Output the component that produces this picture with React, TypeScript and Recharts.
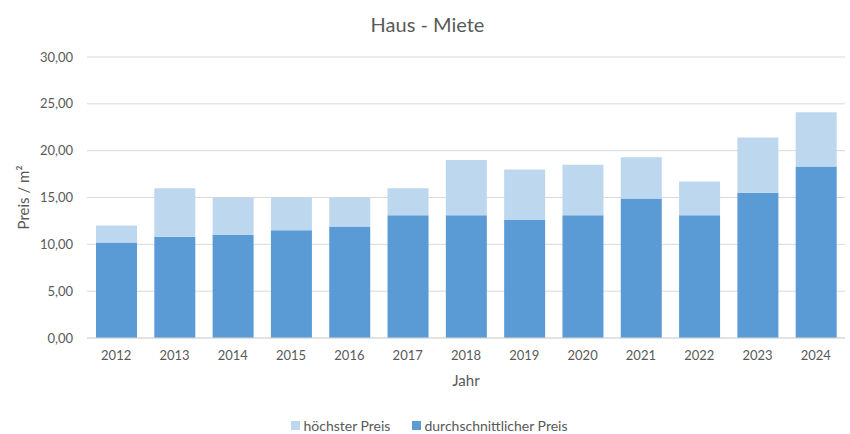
import { Bar, BarChart, CartesianGrid, Legend, XAxis, YAxis } from "recharts";

const years = ["2012", "2013", "2014", "2015", "2016", "2017", "2018", "2019", "2020", "2021", "2022", "2023", "2024"];
// durchschnittlicher Preis (€/m²)
const avgPrice = [10.2, 10.8, 11.0, 11.5, 11.9, 13.1, 13.1, 12.6, 13.1, 14.9, 13.1, 15.5, 18.3];
// höchster Preis (€/m²)
const maxPrice = [12.0, 16.0, 15.0, 15.0, 15.0, 16.0, 19.0, 18.0, 18.5, 19.3, 16.7, 21.4, 24.1];
const yTicks = [0, 5, 10, 15, 20, 25, 30];

const DARK = "#5B9BD5";
const LIGHT = "#BDD7EE";
const TEXT = "#595959";
const FONT = "Lato, 'Noto Sans', sans-serif";

// light bar sits on top of the dark one, so stack the difference
const rows = years.map((y, i) => ({
  year: y,
  avg: avgPrice[i],
  rest: +(maxPrice[i] - avgPrice[i]).toFixed(2),
}));

const fmt = (v: number) => v.toFixed(2).replace(".", ",");

function LegendBox() {
  const item = (color: string, label: string, gap: number) => (
    <span style={{ display: "inline-flex", alignItems: "center", marginRight: gap }}>
      <span style={{ width: 9, height: 9, background: color, marginRight: 3, display: "inline-block" }} />
      {label}
    </span>
  );
  return (
    <div
      style={{
        height: 46,
        paddingTop: 28,
        boxSizing: "border-box",
        lineHeight: "18px",
        textAlign: "center",
        fontSize: 14,
        color: TEXT,
        fontFamily: FONT,
        paddingLeft: 14,
      }}
    >
      {item(LIGHT, "höchster Preis", 22)}
      {item(DARK, "durchschnittlicher Preis", 0)}
    </div>
  );
}

export default function App() {
  return (
    <div style={{ position: "absolute", left: 0, top: 0, width: 850, height: 434, background: "#fff", fontFamily: FONT }}>
      <div
        style={{
          position: "absolute",
          top: 12,
          left: 0,
          width: 855,
          textAlign: "center",
          fontSize: 20,
          color: TEXT,
          lineHeight: "24px",
        }}
      >
        Haus - Miete
      </div>
      <BarChart width={850} height={434} data={rows} margin={{ top: 57, right: 5, left: 0, bottom: 0 }}>
        <CartesianGrid vertical={false} stroke="#d9d9d9" />
        <XAxis
          dataKey="year"
          height={50}
          tickLine={false}
          tickSize={0}
          tickMargin={13}
          axisLine={{ stroke: "#d9d9d9" }}
          tick={{ fill: TEXT, fontSize: 13 }}
          label={{ value: "Jahr", position: "insideBottom", offset: 2, fill: TEXT, fontSize: 15 }}
        />
        <YAxis
          width={87}
          domain={[0, 30]}
          ticks={yTicks}
          tickFormatter={fmt}
          tickLine={false}
          axisLine={false}
          tickSize={0}
          tickMargin={14}
          tick={{ fill: TEXT, fontSize: 13 }}
          label={{
            value: "Preis / m²",
            angle: -90,
            position: "insideLeft",
            offset: 24,
            fill: TEXT,
            fontSize: 15,
            style: { textAnchor: "middle" },
          }}
        />
        <Legend verticalAlign="bottom" content={() => <LegendBox />} />
        <Bar dataKey="avg" name="durchschnittlicher Preis" stackId="p" fill={DARK} barSize={41} isAnimationActive={false} />
        <Bar dataKey="rest" name="höchster Preis" stackId="p" fill={LIGHT} barSize={41} isAnimationActive={false} />
      </BarChart>
    </div>
  );
}
